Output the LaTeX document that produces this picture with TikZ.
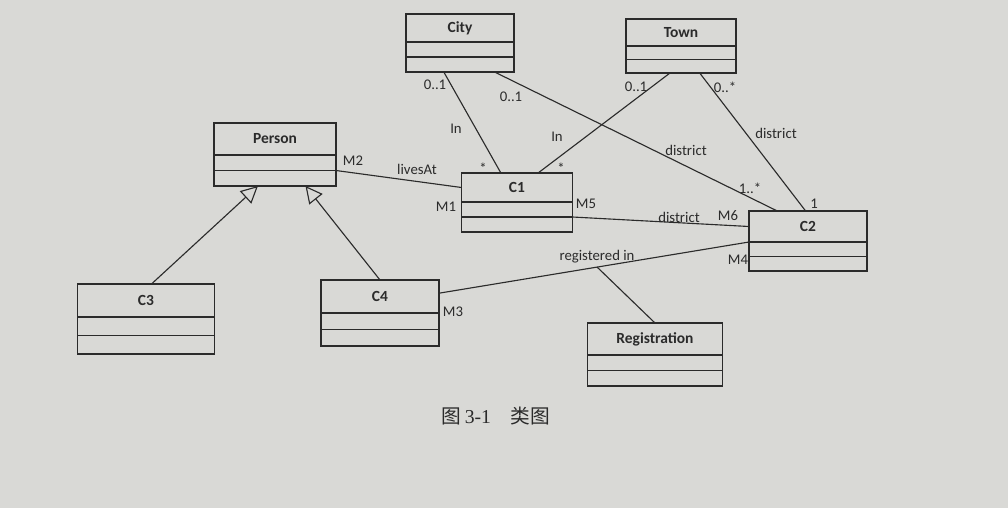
\documentclass[tikz,border=0pt]{standalone}
\usepackage{fontspec}
\setmainfont{Carlito}
\newfontfamily\cjkfont{Noto Sans CJK SC}
\newfontfamily\capfont{Liberation Serif}
\usetikzlibrary{arrows.meta,calc,positioning}
\definecolor{paper}{HTML}{D9D9D6}
\definecolor{ink}{HTML}{2B2B2B}

\begin{document}
\begin{tikzpicture}[x=0.025cm,y=-0.025cm,font=\fontsize{10.5}{12}\selectfont,line width=0.8pt]
  \tikzset{classname/.style={draw=ink, anchor=north, outer sep=0pt, inner sep=0pt, text=ink, font=\fontsize{11}{13}\selectfont\bfseries}, classpart/.style={draw=ink, outer sep=0pt, inner sep=0pt}, link/.style={draw=ink}, isa/.style={draw=ink, -{Triangle[open, length=12pt, width=12pt]}}, lbl/.style={text=ink, inner sep=1pt}}
  \fill[paper] (0,0) rectangle (1008,508);
  \useasboundingbox (0,0) rectangle (1008,508);
  % classes: name, x, top, width, name height, part height
  \foreach \id/\x/\y/\w/\nh/\ph in {City/460/14/108/28/15, Town/681/19/110/27/13.5, Person/275/123/122/32/15.5, C1/517/173/111/29/15, C2/808/211/118/31/14.5, C3/146/284/137/33/18.5, C4/380/280/118/33/16.5, Registration/655/323/135/32/15.5}{
    \node[classname, minimum width=\w*0.025cm, minimum height=\nh*0.025cm] (\id) at (\x,\y) {\id};
    \node[classpart, minimum width=\w*0.025cm, minimum height=\ph*0.025cm, below=0pt of \id] (\id-a) {};
    \node[classpart, minimum width=\w*0.025cm, minimum height=\ph*0.025cm, below=0pt of \id-a] (\id-b) {};
  }
  % associations
  \draw[link] ($(City-b.south west)!0.35!(City-b.south east)$) -- ($(C1.north west)!0.355!(C1.north east)$);
  \draw[link] ($(City-b.south west)!0.82!(City-b.south east)$) -- ($(C2.north west)!0.24!(C2.north east)$);
  \draw[link] ($(Town-b.south west)!0.4!(Town-b.south east)$) -- ($(C1.north west)!0.69!(C1.north east)$);
  \draw[link] ($(Town-b.south west)!0.67!(Town-b.south east)$) -- ($(C2.north west)!0.48!(C2.north east)$);
  \draw[link] (Person-a.south east) -- (C1.west);
  \draw[link] (C1-a.south east) -- (C2.west);
  \draw[link] ($(C4.north east)!0.4!(C4.south east)$) -- coordinate[pos=0.51] (reg) (C2.south west);
  \draw[link] (reg) -- (Registration.north);
  % generalisation
  \draw[isa] ($(C3.north west)!0.54!(C3.north east)$) -- ($(Person-b.south west)!0.36!(Person-b.south east)$);
  \draw[isa] (C4.north) -- ($(Person-b.south west)!0.75!(Person-b.south east)$);
  % labels
  \node[lbl] (ci1) at (435,85) {0..1};
  \node[lbl] (ci2) at (511,97) {0..1};
  \node[lbl] (in1) at (456,129) {In};
  \node[lbl] (st1) at (483,168) {*};
  \node[lbl] (to1) at (636,87) {0..1};
  \node[lbl] (to2) at (725,87) {0..*};
  \node[lbl] (in2) at (557,137) {In};
  \node[lbl] (st2) at (561,168) {*};
  \node[lbl] (di1) at (686,150) {district};
  \node[lbl] (di2) at (776,133) {district};
  \node[lbl] (om1) at (750,188) {1..*};
  \node[lbl] (one) at (814,204) {1};
  \node[lbl] (lv) at (417,169) {livesAt};
  \node[lbl] (m2) at (353,161) {M2};
  \node[lbl] (m1) at (446,207) {M1};
  \node[lbl] (m5) at (586,204) {M5};
  \node[lbl] (di3) at (679,217) {district};
  \node[lbl] (m6) at (728,216) {M6};
  \node[lbl] (m4) at (738,260) {M4};
  \node[lbl] (ri) at (597,257) {registered in};
  \node[lbl] (m3) at (453,312) {M3};
  \node[text=ink] (cap) at (496,416) {\fontsize{14}{16}\selectfont{\cjkfont 图}\,{\capfont 3-1}\quad{\cjkfont 类图}};
\end{tikzpicture}
\end{document}
